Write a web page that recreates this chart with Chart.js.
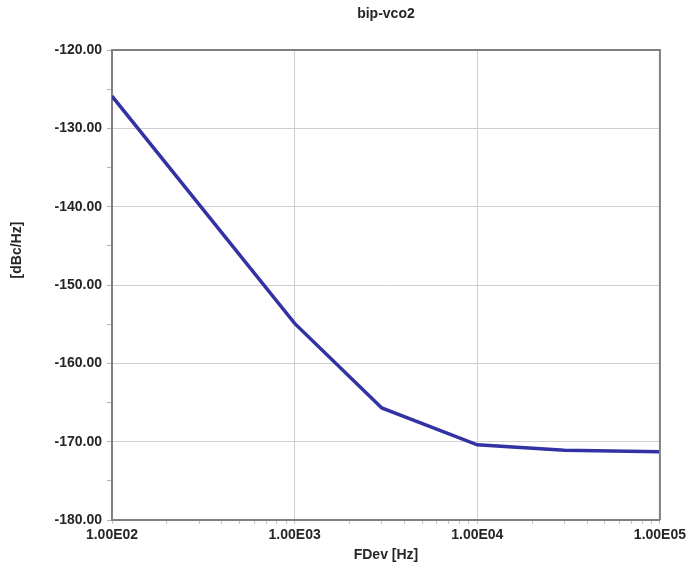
<!DOCTYPE html>
<html>
<head>
<meta charset="utf-8">
<script src="https://cdn.jsdelivr.net/npm/chart.js@4/dist/chart.umd.min.js"></script>
<style>
  html, body { margin: 0; padding: 0; background: #fff; overflow: hidden; }
  #wrap { width: 689px; height: 569px; }
</style>
</head>
<body>
<div id="wrap"><canvas id="noise"></canvas></div>
<script>
// phase noise sweep, offset frequency vs dBc/Hz
const freqs = [100, 1000, 3000, 10000, 30000, 100000];
const noise = [-125.9, -154.9, -165.7, -170.4, -171.1, -171.3];
const xMajor = [100, 1000, 10000, 100000];
const yMajor = [-180, -170, -160, -150, -140, -130, -120];
const chartTitle = "bip-vco2";
const xTitle = "FDev [Hz]";
const yTitle = "[dBc/Hz]";

const FAMILY = "'Liberation Sans', Arial, sans-serif";
const FONT = { family: FAMILY, size: 14, weight: "bold" };
const TEXT = "#262626";

function sciLabel(v) {
  const exp = Math.round(Math.log10(v));
  const mant = v / Math.pow(10, exp);
  return mant.toFixed(2) + "E" + String(exp).padStart(2, "0");
}

// every decade step (1..9 x 10^n) for the small marks under the axis
function decadeTicks(min, max) {
  const t = [];
  for (let d = min; d < max; d *= 10) {
    for (let m = 1; m < 10; m++) t.push({ value: d * m });
  }
  t.push({ value: max });
  return t;
}

const canvas = document.getElementById("noise");

new Chart(canvas.getContext("2d"), {
  type: "line",
  data: {
    datasets: [
      {
        label: chartTitle,
        data: freqs.map((f, i) => ({ x: f, y: noise[i] })),
        borderColor: "#3232a4",
        borderWidth: 3.5,
        pointRadius: 0,
        tension: 0,
        fill: false,
      },
    ],
  },
  options: {
    responsive: true,
    maintainAspectRatio: false,
    animation: false,
    layout: { padding: { left: 0, right: 0, top: 50, bottom: 0 } },
    plugins: {
      legend: { display: false },
      tooltip: { enabled: false },
      title: { display: false },
    },
    scales: {
      x: {
        type: "logarithmic",
        min: 100,
        max: 100000,
        afterBuildTicks: (scale) => {
          scale.ticks = decadeTicks(100, 100000);
        },
        afterFit: (scale) => { scale.height = 49; },
        ticks: {
          color: TEXT,
          font: FONT,
          padding: 3,
          maxRotation: 0,
          autoSkip: false,
          callback: (v) => (xMajor.includes(v) ? sciLabel(v) : ""),
        },
        grid: {
          color: (ctx) => (ctx.tick && xMajor.includes(ctx.tick.value) ? "#cfcfcf" : "rgba(0,0,0,0)"),
          lineWidth: 1,
          tickLength: 4,
          tickColor: "#c4c4c4",
        },
        border: { color: "#808080", width: 2 },
      },
      y: {
        min: -180,
        max: -120,
        afterBuildTicks: (scale) => {
          const t = [];
          for (let v = -180; v <= -120; v += 5) t.push({ value: v });
          scale.ticks = t;
        },
        afterFit: (scale) => { scale.width = 112; },
        ticks: {
          color: TEXT,
          font: FONT,
          padding: 5,
          autoSkip: false,
          callback: (v) => (yMajor.includes(v) ? v.toFixed(2) : ""),
        },
        grid: {
          color: (ctx) => (ctx.tick && yMajor.includes(ctx.tick.value) ? "#cfcfcf" : "rgba(0,0,0,0)"),
          tickColor: "#b0b0b0",
          tickLength: 5,
          lineWidth: 1,
        },
        border: { color: "#808080", width: 2 },
      },
    },
  },
  plugins: [
    {
      // frame on top/right plus the chart and axis titles
      id: "frameAndTitles",
      afterDraw(chart) {
        const { ctx, chartArea: a } = chart;
        const midX = (a.left + a.right) / 2;
        ctx.save();
        ctx.strokeStyle = "#808080";
        ctx.lineWidth = 2;
        ctx.beginPath();
        ctx.moveTo(a.left, a.top);
        ctx.lineTo(a.right, a.top);
        ctx.lineTo(a.right, a.bottom);
        ctx.stroke();

        ctx.fillStyle = TEXT;
        ctx.font = "bold 14px " + FAMILY;
        ctx.textAlign = "center";
        ctx.textBaseline = "middle";
        ctx.fillText(chartTitle, midX, 14);
        ctx.fillText(xTitle, midX, 555);

        ctx.translate(17, 250);
        ctx.rotate(-Math.PI / 2);
        ctx.fillText(yTitle, 0, 0);
        ctx.restore();
      },
    },
  ],
});
</script>
</body>
</html>
